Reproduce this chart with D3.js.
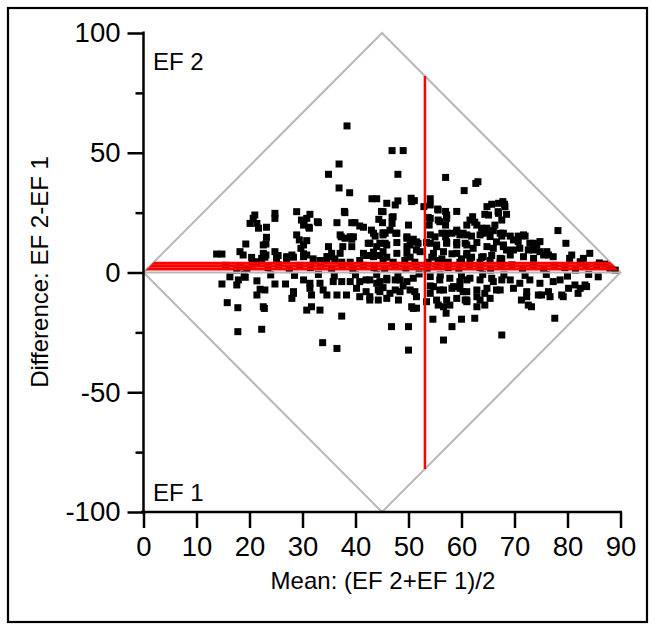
<!DOCTYPE html>
<html><head><meta charset="utf-8">
<script src="https://cdn.jsdelivr.net/npm/d3@7"></script>
<style>body{margin:0;background:#fff}text{font-family:"Liberation Sans",Arial,sans-serif}</style></head>
<body><svg id="c" width="655" height="631"></svg>
<script>
const meanValues=[38.4,46.9,49.0,36.9,34.9,48.0,57.0,62.7,63.1,36.9,38.9,60.5,43.1,44.0,48.0,50.5,51.1,54.1,65.7,67.8,68.1,52.9,55.5,57.0,59.1,37.9,44.9,31.4,30.8,33.0,36.5,39.3,39.9,31.2,41.5,44.4,45.1,46.9,46.9,50.0,43.0,45.2,46.5,47.6,53.7,53.9,55.6,57.0,57.2,59.1,61.0,37.3,39.0,49.7,55.0,57.0,64.4,66.9,68.5,62.1,62.5,63.8,64.8,66.0,78.2,69.2,67.6,70.7,72.0,61.9,
20.7,21.4,21.0,23.2,24.8,24.8,28.9,29.8,28.9,30.2,21.7,20.1,19.3,13.8,14.8,18.2,18.8,20.4,21.4,22.3,22.6,22.6,17.6,18.2,16.3,17.9,19.2,17.6,14.8,21.4,22.0,21.4,22.6,15.8,17.8,22.8,17.8,22.3,22.9,24.8,26.8,28.3,28.0,30.8,23.1,23.1,24.8,30.2,25.1,27.0,28.0,30.2,
30.3,31.3,32.8,23.2,38.0,40.8,29.4,30.8,29.7,37.1,37.6,39.3,39.3,34.9,34.9,35.5,43.7,44.6,42.7,22.9,25.4,27.0,28.3,30.2,32.0,33.3,34.6,36.1,37.4,39.0,40.8,42.1,43.4,44.6,30.2,31.4,33.3,35.8,37.4,39.0,40.8,42.7,44.6,28.3,31.4,31.7,33.9,34.6,36.5,38.3,40.2,40.8,42.7,44.3,44.3,42.7,31.7,33.3,
37.4,46.8,50.0,33.8,36.5,50.0,56.6,54.6,58.2,60.0,57.1,55.6,57.8,60.7,51.5,50.6,42.0,44.0,45.9,47.5,49.7,42.0,44.6,46.5,48.4,50.3,51.5,54.1,54.7,56.6,58.5,59.7,61.0,55.3,57.2,59.1,38.0,39.6,43.4,45.6,47.8,49.7,57.2,59.1,60.3,42.4,44.0,45.9,50.3,51.8,54.1,55.3,57.2,59.1,60.7,30.8,34.6,37.1,41.5,43.4,45.2,47.8,49.7,51.5,54.7,56.6,59.1,61.0,
45.9,47.5,50.6,54.1,55.6,64.8,67.0,65.1,67.0,45.2,47.1,54.1,55.9,57.2,61.6,62.9,64.8,66.3,67.6,45.2,50.9,54.1,56.3,58.2,59.7,63.5,65.4,67.3,45.6,47.8,49.7,51.5,53.4,55.3,57.2,59.1,61.0,62.9,64.8,66.6,67.9,45.9,50.3,52.2,54.4,56.3,58.2,60.0,61.9,63.8,65.7,67.6,45.2,47.1,49.3,51.2,53.7,55.6,57.5,59.7,61.6,63.5,65.4,67.3,
45.9,48.4,50.9,54.1,55.9,57.8,59.7,61.6,63.5,65.7,67.6,45.2,47.5,49.0,51.2,54.1,55.9,58.2,60.3,62.9,64.8,66.6,45.9,48.1,50.9,53.4,56.6,61.0,63.5,65.4,
68.2,79.7,80.8,84.2,83.0,82.4,80.4,86.0,87.0,88.0,89.0,85.8,83.3,82.0,79.2,77.6,67.6,72.6,62.5,76.4,75.1,61.0,64.1,70.7,74.2,74.8,76.4,72.6,67.9,66.0,62.2,61.0,64.1,69.2,71.7,73.6,67.3,69.8,72.9,
61.0,66.0,69.2,71.0,72.9,74.8,77.3,78.6,80.2,81.4,83.6,62.9,64.4,67.3,69.8,72.3,74.5,61.0,62.9,64.4,72.3,71.3,82.4,78.9,76.7,73.2,67.9,69.8,71.7,73.6,74.8,76.1,73.6,71.0,68.5,75.5,77.3,
15.5,19.5,20.5,23.5,25.5,27.5,29.5,31.5,33.5,35.5,37.5,39.5,41.5,43.5,45.5,47.5,49.5,51.5,53.5,55.5,57.5,59.5,61.5,63.5,65.5,67.5,69.5,71.5,73.5,75.5,77.5,79.5,81.5,83.5,85.5,
19.0,24.0,28.5,33.0,36.0,40.0,44.0,48.0,52.0,56.0,60.0,64.0,68.0,72.0,76.0,80.0,84.0];
const diffValues=[61.2,50.9,50.9,45.3,41.0,41.0,39.7,37.2,37.9,35.3,33.3,34.2,30.8,30.8,29.9,31.0,30.0,30.8,28.5,29.6,28.5,27.5,26.5,25.5,25.5,25.5,25.5,24.3,22.6,20.8,20.8,20.8,20.8,18.9,18.9,22.2,20.8,23.0,20.5,19.8,17.7,16.6,17.7,16.4,23.0,19.8,21.9,19.8,22.6,17.7,19.8,14.9,14.9,14.9,14.9,14.9,24.3,25.4,24.3,23.3,21.0,18.5,17.0,17.5,17.5,15.2,15.2,15.2,15.2,15.2,
22.6,20.5,24.0,18.9,24.7,22.6,25.4,21.9,15.7,19.8,18.5,20.5,11.9,7.7,7.7,8.7,7.3,6.3,4.5,5.9,11.5,8.0,1.0,2.4,-1.8,-3.1,-2.0,-5.2,-4.8,-3.5,-7.0,-9.4,-14.3,-12.6,-14.7,-15.0,-24.7,-23.7,-7.3,-4.8,-4.8,-8.7,-10.8,-15.7,11.9,7.3,8.7,11.5,5.9,6.6,7.3,6.6,
21.2,18.5,21.2,14.7,25.0,19.4,13.6,13.3,10.1,15.7,10.8,13.9,10.8,10.8,6.6,8.0,15.2,12.2,12.2,6.4,7.1,5.7,6.4,7.8,5.7,5.0,5.0,5.7,4.3,4.3,5.0,7.1,8.5,7.1,-3.1,-4.5,-4.5,-3.8,-3.8,-3.8,-3.8,-3.1,-3.8,-8.0,-6.6,-9.4,-7.3,-9.4,-9.4,-9.4,-6.6,-10.1,-10.1,-7.3,-11.5,-11.5,-14.3,-15.7,
-18.2,-22.6,-22.6,-29.3,-31.7,-32.4,-28.2,-19.5,-22.6,-19.5,-17.0,-13.6,-13.6,-11.5,-14.9,-14.3,-3.1,-4.5,-3.1,-3.1,-3.8,-8.0,-8.0,-8.7,-8.0,-7.3,-10.1,-8.7,-5.9,-7.3,-5.9,-6.6,-8.0,-11.5,-11.5,-10.8,14.3,14.9,16.4,16.4,16.4,14.3,16.4,17.0,16.4,12.2,10.8,11.5,11.5,12.2,12.2,11.5,12.2,11.5,12.2,7.3,6.6,8.0,8.0,6.6,8.7,8.0,8.0,9.4,8.0,8.7,8.0,8.0,
28.9,28.2,29.6,28.2,26.1,27.5,28.9,24.0,24.7,25.4,23.3,22.6,21.2,24.0,21.9,19.8,18.5,19.8,21.9,15.7,13.9,15.7,16.4,16.4,15.7,15.7,15.0,16.4,12.2,12.5,10.8,12.8,12.5,10.8,12.8,12.5,11.5,12.5,10.8,12.8,11.5,6.4,6.4,8.7,6.4,5.7,7.8,5.7,6.4,6.4,7.1,5.7,5.0,4.3,5.0,4.3,4.3,5.0,4.3,4.3,5.0,4.3,5.0,4.3,
-2.4,-3.1,-2.4,-1.7,-3.1,-2.4,-3.8,-2.4,-3.1,-2.4,-3.1,-6.3,-7.3,-5.6,-8.0,-5.6,-7.3,-6.6,-8.0,-7.3,-6.6,-7.3,-10.8,-11.5,-15.0,-12.2,-14.3,-12.2,-11.5,-10.8,
27.5,12.2,7.3,8.0,5.9,4.5,5.9,4.0,3.5,1.8,1.0,-1.8,-5.2,-8.7,-10.1,-19.1,-26.1,-13.6,-19.1,-8.0,-9.4,15.7,16.4,12.9,11.5,8.7,7.3,9.4,10.8,10.1,10.1,7.3,6.6,7.3,6.6,5.9,5.9,9.4,12.2,
-3.1,-3.8,-3.1,-4.5,-3.1,-4.5,-3.8,-3.1,-6.6,-5.2,-5.9,-10.1,-8.7,-7.3,-6.6,-8.0,-9.4,-11.5,-14.3,-13.6,-10.1,-11.5,-6.6,-9.4,-10.1,-14.3,16.4,13.6,15.7,12.2,12.9,8.7,9.4,10.1,9.4,7.3,6.6,
3.0,1.5,3.5,2.0,3.2,1.2,3.0,2.0,3.5,1.5,2.5,1.0,3.0,2.0,1.5,3.0,1.8,2.5,1.2,3.0,2.0,1.5,3.0,2.0,1.0,2.5,3.2,1.5,2.5,1.2,3.0,2.0,1.0,2.5,3.0,
-0.8,-1.0,-1.2,-0.8,-1.5,-1.0,-0.8,-1.2,-0.6,-1.0,-1.3,-0.8,-1.0,-1.2,-0.8,-1.5,-0.8];
const xTicks=[0,10,20,30,40,50,60,70,80,90];
const yTicks=[-100,-50,0,50,100];
const yMinorTicks=[-75,-25,25,75];
const diamondCorners=[[0,0],[45,100],[90,0],[45,-100]];
const biasLines=[1.5,2.7,3.9];
const meanOfMeans=53.1;
const meanLineSpan=[-82,82];
const xTitle="Mean: (EF 2+EF 1)/2";
const yTitle="Difference: EF 2-EF 1";
const cornerLabels=[{t:"EF 2",v:88},{t:"EF 1",v:-92}];

const svg=d3.select("#c");
svg.append("rect").attr("x",8).attr("y",8).attr("width",639).attr("height",614)
  .attr("fill","#fff").attr("stroke","#000").attr("stroke-width",2.2);
const x=d3.scaleLinear().domain([0,90]).range([143.5,620.5]);
const y=d3.scaleLinear().domain([-100,100]).range([512,33]);

svg.append("clipPath").attr("id","dm").append("path")
  .attr("d",d3.line().x(d=>x(d[0])).y(d=>y(d[1]))(diamondCorners)+"Z");

svg.append("path").attr("d",d3.line().x(d=>x(d[0])).y(d=>y(d[1]))(diamondCorners)+"Z")
  .attr("fill","none").attr("stroke","#b8b8b8").attr("stroke-width",2);

const pts=meanValues.map((m,i)=>[m,diffValues[i]]);
const s=7;
svg.append("g").selectAll("rect").data(pts).join("rect")
  .attr("x",d=>x(d[0])-s/2).attr("y",d=>y(d[1])-s/2).attr("width",s).attr("height",s).attr("fill","#000");

svg.append("line").attr("x1",x(0)).attr("x2",x(90)).attr("y1",y(0)).attr("y2",y(0))
  .attr("stroke","#b8b8b8").attr("stroke-width",2);

svg.append("g").attr("clip-path","url(#dm)").selectAll("line").data(biasLines).join("line")
  .attr("x1",x(0)).attr("x2",x(90)).attr("y1",d=>y(d)).attr("y2",d=>y(d))
  .attr("stroke","#f00").attr("stroke-width",3);
svg.append("line").attr("x1",x(meanOfMeans)).attr("x2",x(meanOfMeans))
  .attr("y1",y(meanLineSpan[0])).attr("y2",y(meanLineSpan[1]))
  .attr("stroke","#f00").attr("stroke-width",2.5);

const tickFs=27.5, titleFs=24;
const fmt=d=>String(d);
const xa=svg.append("g").attr("transform","translate(0,512)")
  .call(d3.axisBottom(x).tickValues(xTicks).tickSize(16).tickSizeOuter(0).tickPadding(8).tickFormat(fmt));
const ya=svg.append("g").attr("transform","translate(143.5,0)")
  .call(d3.axisLeft(y).tickValues(yTicks).tickSize(16).tickSizeOuter(0).tickPadding(7).tickFormat(fmt));
const ym=svg.append("g").attr("transform","translate(143.5,0)")
  .call(d3.axisLeft(y).tickValues(yMinorTicks).tickSize(8).tickSizeOuter(0).tickFormat(""));
[xa,ya,ym].forEach(g=>{
  g.selectAll("path,line").attr("stroke","#000").attr("stroke-width",2.5);
  g.selectAll("text").attr("font-size",tickFs).attr("fill","#000").style("font-family",'"Liberation Sans",Arial,sans-serif');
});
ym.select("path").remove();
xa.select("path").attr("d","M141,0H622");
ya.select("path").attr("d","M0,512V31.5");

svg.append("text").attr("x",383).attr("y",589).attr("text-anchor","middle").attr("font-size",titleFs).text(xTitle);
svg.append("text").attr("transform","translate(48,272) rotate(-90)").attr("text-anchor","middle").attr("font-size",titleFs).text(yTitle);
svg.selectAll(".corner").data(cornerLabels).join("text").attr("class","corner")
  .attr("x",153).attr("y",d=>y(d.v)+8.5).attr("font-size",titleFs).text(d=>d.t);
</script></body></html>
